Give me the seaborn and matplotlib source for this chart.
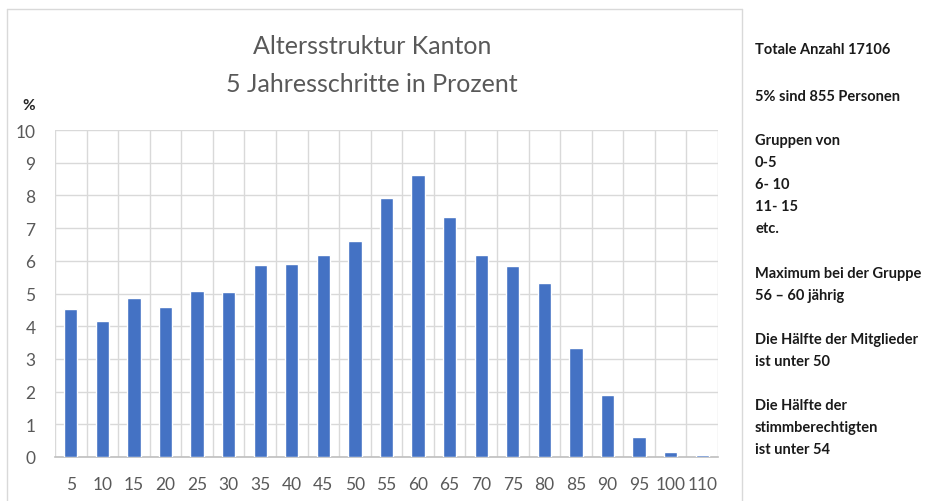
import matplotlib
matplotlib.use("Agg")
import matplotlib.pyplot as plt
import seaborn as sns
import pandas as pd
from matplotlib.lines import Line2D

# Altersgruppen (obere Grenze) und Anteil in Prozent
age_groups = ["5", "10", "15", "20", "25", "30", "35", "40", "45", "50", "55",
              "60", "65", "70", "75", "80", "85", "90", "95", "100", "110"]
percent = [4.53, 4.15, 4.86, 4.58, 5.08, 5.06, 5.86, 5.90, 6.19, 6.60, 7.93,
           8.63, 7.35, 6.18, 5.84, 5.32, 3.33, 1.90, 0.60, 0.15, 0.07]

notes = [
    ("Totale Anzahl 17106", 50),
    ("5% sind 855 Personen", 97),
    ("Gruppen von", 141),
    ("0-5", 163),
    ("6- 10", 185),
    ("11- 15", 207),
    ("etc.", 229),
    ("Maximum bei der Gruppe", 274),
    ("56 \u2013 60 jährig", 296),
    ("Die Hälfte der Mitglieder", 340),
    ("ist unter 50", 362),
    ("Die Hälfte der", 406),
    ("stimmberechtigten", 428),
    ("ist unter 54", 450),
]

sns.set_theme(style="white")
plt.rcParams['font.family'] = ['Lato', 'DejaVu Sans']

W, H = 953, 502
fig = plt.figure(figsize=(W / 100, H / 100), dpi=100)
ax = fig.add_axes([55 / W, 1 - 458 / H, (718 - 55) / W, (458 - 131) / H])

df = pd.DataFrame({"age": age_groups, "pct": percent})
sns.barplot(data=df, x="age", y="pct", order=age_groups, color="#4472C4",
            saturation=1, width=0.42, ax=ax, zorder=3)

ax.set_ylim(0, 10)
ax.set_xlim(-0.5, len(age_groups) - 0.5)
ax.set_yticks(range(0, 11))
ax.set_xticks(range(len(age_groups)), age_groups)
ax.set_xticks([i - 0.5 for i in range(len(age_groups) + 1)], minor=True)
ax.grid(axis="y", which="major", color="#d9d9d9", lw=1.0, zorder=0)
ax.grid(axis="x", which="minor", color="#d9d9d9", lw=1.0, zorder=0)
ax.tick_params(axis="both", which="both", length=0)
ax.tick_params(axis="y", pad=14, labelsize=12.5, labelcolor="#595959")
ax.tick_params(axis="x", pad=14, labelsize=12.5, labelcolor="#595959")
ax.set_xlabel("")
ax.set_ylabel("")
for s in ["top", "right", "left"]:
    ax.spines[s].set_visible(False)
ax.spines["bottom"].set_color("#bfbfbf")
ax.spines["bottom"].set_linewidth(1.2)

fig.text(372 / W, 1 - 47 / H, "Altersstruktur Kanton", ha="center", va="center",
         fontsize=18, color="#595959")
fig.text(372 / W, 1 - 85 / H, "5 Jahresschritte in Prozent", ha="center", va="center",
         fontsize=18, color="#595959")
fig.text(22 / W, 1 - 106 / H, "%", ha="left", va="center", fontsize=11,
         fontweight="bold", color="#262626")

for txt, y in notes:
    fig.text(755 / W, 1 - y / H, txt, ha="left", va="center", fontsize=10.5,
             fontweight="bold", color="#1a1a1a")

# chart frame
fc = "#d9d9d9"
fig.add_artist(Line2D([7 / W, 742 / W], [1 - 10 / H, 1 - 10 / H], color=fc, lw=1))
fig.add_artist(Line2D([7 / W, 7 / W], [1 - 10 / H, 0], color=fc, lw=1))
fig.add_artist(Line2D([742 / W, 742 / W], [1 - 10 / H, 0], color=fc, lw=1))

fig.savefig("out.png", dpi=100)
